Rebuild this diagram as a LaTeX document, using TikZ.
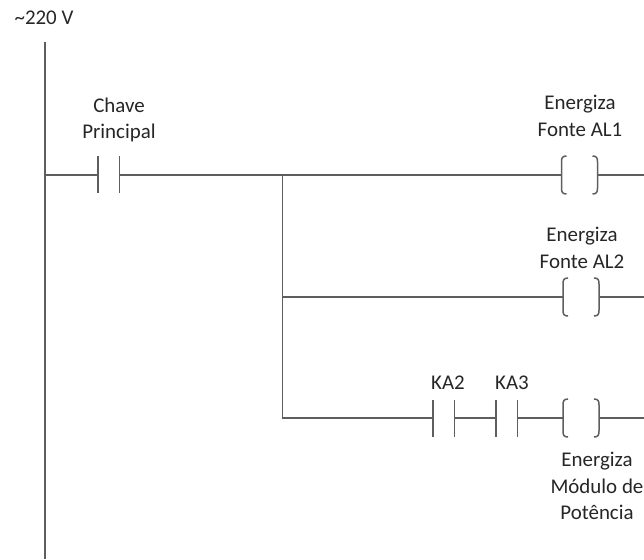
\documentclass[tikz,border=0pt]{standalone}
\usepackage{fontspec}
\setmainfont{Carlito}
\definecolor{wirec}{HTML}{5E5E5E}
\definecolor{textc}{HTML}{262626}
\tikzset{
  wire/.style={draw=wirec, line width=1.5bp},
  lbl/.style={font=\fontsize{21}{26.5}\selectfont, text=textc, align=center, inner sep=0pt},
  contact/.pic={
    \coordinate (-l) at (0,0);
    \coordinate (-r) at (21.5,0);
    \draw[wire] (0,-18.5) -- (0,18.5) (21.5,-18.5) -- (21.5,18.5);
  },
  coil/.pic={
    \coordinate (-l) at (0,0);
    \coordinate (-r) at (36,0);
    \draw[wire] (5,-19) .. controls (0.8,-19) and (0,-17) .. (0,-13) -- (0,13) .. controls (0,17) and (0.8,19) .. (5,19);
    \draw[wire] (31,-19) .. controls (35.2,-19) and (36,-17) .. (36,-13) -- (36,13) .. controls (36,17) and (35.2,19) .. (31,19);
  }
}
\begin{document}
\begin{tikzpicture}[x=1bp,y=-1bp]
\useasboundingbox (0,0) rectangle (644,560);
% supply label and rail
\node[lbl] (supply) at (44,18) {\textasciitilde220 V};
\coordinate (railtop) at (45,42);
\coordinate (railbot) at (45,559);
\draw[wire] (railtop) -- (railbot);
% element positions
\pic (cp) at (98,175) {contact};
\pic (al1) at (561.5,175) {coil};
\pic (al2) at (563,297) {coil};
\pic (ka2) at (433,418) {contact};
\pic (ka3) at (496,418) {contact};
\pic (mp) at (563,418) {coil};
\coordinate (r1) at (45,175);
\coordinate (j1) at (282.5,175);
\coordinate (j2) at (282.5,297);
\coordinate (j3) at (282.5,418);
\coordinate (e1) at (644,175);
\coordinate (e2) at (644,297);
\coordinate (e3) at (644,418);
% rung 1
\draw[wire] (r1) -- (cp-l);
\draw[wire] (cp-r) -- (j1) -- (al1-l);
\draw[wire] (al1-r) -- (e1);
% branch and rung 3
\draw[wire] (j1) -- (j2) -- (j3) -- (ka2-l);
\draw[wire] (ka2-r) -- (ka3-l);
\draw[wire] (ka3-r) -- (mp-l);
\draw[wire] (mp-r) -- (e3);
% rung 2
\draw[wire] (j2) -- (al2-l);
\draw[wire] (al2-r) -- (e2);
% labels
\node[lbl] (lcp) at (119,120) {Chave\\Principal};
\node[lbl] (lal1) at (580,116) {Energiza\\Fonte AL1};
\node[lbl] (lal2) at (582,248) {Energiza\\Fonte AL2};
\node[lbl] (lka2) at (448,383) {KA2};
\node[lbl] (lka3) at (512,383) {KA3};
\node[lbl] (lmp) at (597,486) {Energiza\\Módulo de\\Potência};
\end{tikzpicture}
\end{document}
